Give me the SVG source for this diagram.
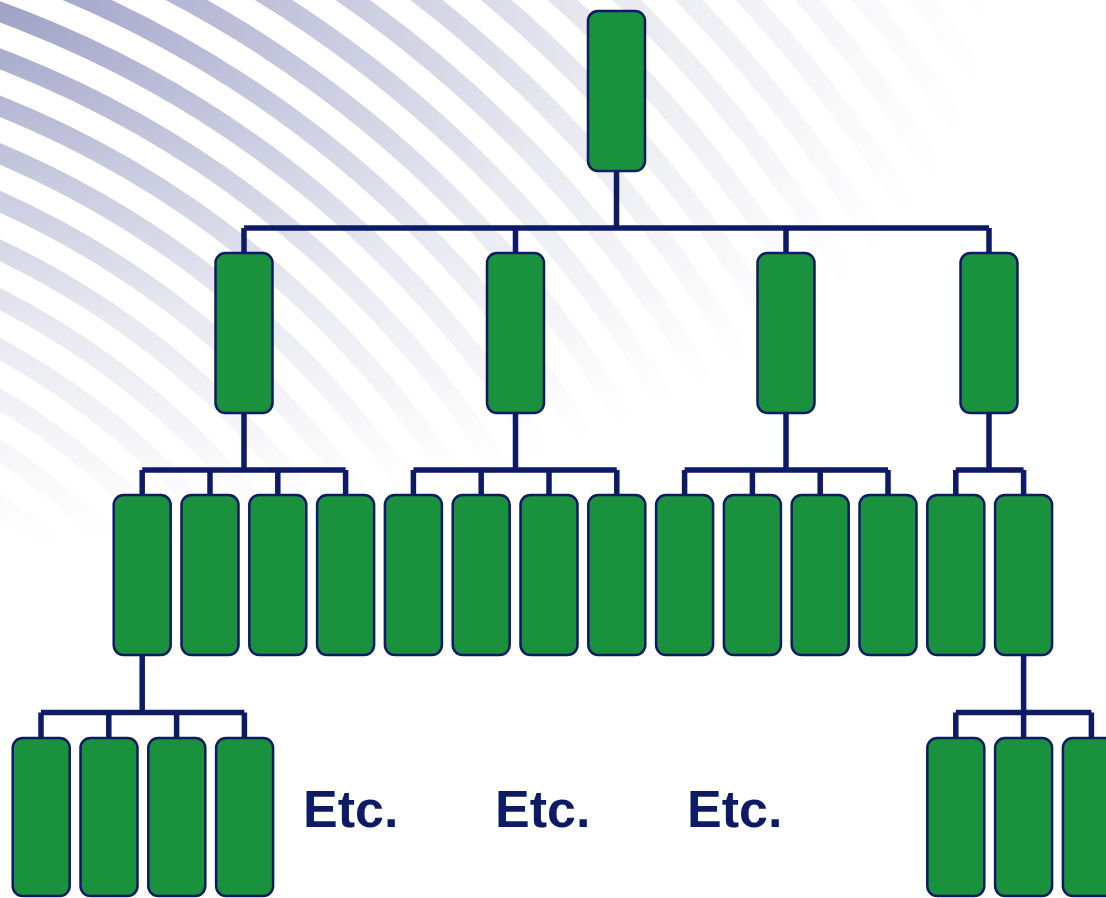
<svg xmlns="http://www.w3.org/2000/svg" width="1106" height="898" viewBox="0 0 1106 898">
<defs>
<radialGradient id="fade" gradientUnits="userSpaceOnUse" cx="0" cy="0" r="1000" gradientTransform="scale(1,0.55)">
<stop offset="0" stop-color="#9ea1c6"/>
<stop offset="0.3" stop-color="#c4c6dd"/>
<stop offset="0.6" stop-color="#e8e9f1"/>
<stop offset="0.85" stop-color="#f8f8fb"/>
<stop offset="1" stop-color="#ffffff"/>
</radialGradient>
<style>
.bg{fill:none;stroke:url(#fade);stroke-width:20}
.box{fill:#1a913c;stroke:#0d1a66;stroke-width:2.5}
.con{fill:none;stroke:#0d1a66;stroke-width:5.5;stroke-linecap:butt;stroke-linejoin:miter}
.etc{font-family:"Liberation Sans",Arial,sans-serif;font-weight:bold;font-size:52px;fill:#0d1a66}
</style>
</defs>
<rect width="1106" height="898" fill="#ffffff"/>
<g id="background">
<circle class="bg" cx="-367" cy="1017" r="630"/>
<circle class="bg" cx="-367" cy="1017" r="674"/>
<circle class="bg" cx="-367" cy="1017" r="718"/>
<circle class="bg" cx="-367" cy="1017" r="762"/>
<circle class="bg" cx="-367" cy="1017" r="806"/>
<circle class="bg" cx="-367" cy="1017" r="850"/>
<circle class="bg" cx="-367" cy="1017" r="894"/>
<circle class="bg" cx="-367" cy="1017" r="938"/>
<circle class="bg" cx="-367" cy="1017" r="982"/>
<circle class="bg" cx="-367" cy="1017" r="1026"/>
<circle class="bg" cx="-367" cy="1017" r="1070"/>
<circle class="bg" cx="-367" cy="1017" r="1114"/>
<circle class="bg" cx="-367" cy="1017" r="1158"/>
<circle class="bg" cx="-367" cy="1017" r="1202"/>
<circle class="bg" cx="-367" cy="1017" r="1246"/>
<circle class="bg" cx="-367" cy="1017" r="1290"/>
<circle class="bg" cx="-367" cy="1017" r="1334"/>
<circle class="bg" cx="-367" cy="1017" r="1378"/>
<circle class="bg" cx="-367" cy="1017" r="1422"/>
<circle class="bg" cx="-367" cy="1017" r="1466"/>
<circle class="bg" cx="-367" cy="1017" r="1510"/>
<circle class="bg" cx="-367" cy="1017" r="1554"/>
<circle class="bg" cx="-367" cy="1017" r="1598"/>
<circle class="bg" cx="-367" cy="1017" r="1642"/>
<circle class="bg" cx="-367" cy="1017" r="1686"/>
</g>
<g id="connectors">
<path class="con" d="M616.5 171V228M244 228H989M244 228V252M515.5 228V252M786 228V252M989 228V252"/>
<path class="con" d="M244 413V470M142.2 470H345.6M142.2 470V494M210 470V494M277.8 470V494M345.6 470V494"/>
<path class="con" d="M515.5 413V470M413.4 470H616.8M413.4 470V494M481.2 470V494M549 470V494M616.8 470V494"/>
<path class="con" d="M786 413V470M684.6 470H888M684.6 470V494M752.4 470V494M820.2 470V494M888 470V494"/>
<path class="con" d="M989 413V470M955.8 470H1023.6M955.8 470V494M1023.6 470V494"/>
<path class="con" d="M142.2 656V712.5M41 712.5H244.4M41 712.5V737M108.8 712.5V737M176.6 712.5V737M244.4 712.5V737"/>
<path class="con" d="M1023.6 656V712.5M955.8 712.5H1091.4M955.8 712.5V737M1023.6 712.5V737M1091.4 712.5V737"/>
</g>
<g id="root"><rect class="box" x="588" y="11" width="57" height="160" rx="10"/></g>
<g id="l2-1"><rect class="box" x="215.5" y="253" width="57" height="160" rx="10"/></g>
<g id="l2-2"><rect class="box" x="487" y="253" width="57" height="160" rx="10"/></g>
<g id="l2-3"><rect class="box" x="757.5" y="253" width="57" height="160" rx="10"/></g>
<g id="l2-4"><rect class="box" x="960.5" y="253" width="57" height="160" rx="10"/></g>
<g id="l3-1"><rect class="box" x="113.7" y="495" width="57" height="160" rx="10"/></g>
<g id="l3-2"><rect class="box" x="181.5" y="495" width="57" height="160" rx="10"/></g>
<g id="l3-3"><rect class="box" x="249.3" y="495" width="57" height="160" rx="10"/></g>
<g id="l3-4"><rect class="box" x="317.1" y="495" width="57" height="160" rx="10"/></g>
<g id="l3-5"><rect class="box" x="384.9" y="495" width="57" height="160" rx="10"/></g>
<g id="l3-6"><rect class="box" x="452.7" y="495" width="57" height="160" rx="10"/></g>
<g id="l3-7"><rect class="box" x="520.5" y="495" width="57" height="160" rx="10"/></g>
<g id="l3-8"><rect class="box" x="588.3" y="495" width="57" height="160" rx="10"/></g>
<g id="l3-9"><rect class="box" x="656.1" y="495" width="57" height="160" rx="10"/></g>
<g id="l3-10"><rect class="box" x="723.9" y="495" width="57" height="160" rx="10"/></g>
<g id="l3-11"><rect class="box" x="791.7" y="495" width="57" height="160" rx="10"/></g>
<g id="l3-12"><rect class="box" x="859.5" y="495" width="57" height="160" rx="10"/></g>
<g id="l3-13"><rect class="box" x="927.3" y="495" width="57" height="160" rx="10"/></g>
<g id="l3-14"><rect class="box" x="995.1" y="495" width="57" height="160" rx="10"/></g>
<g id="l4-1"><rect class="box" x="12.7" y="738" width="57" height="158" rx="10"/></g>
<g id="l4-2"><rect class="box" x="80.5" y="738" width="57" height="158" rx="10"/></g>
<g id="l4-3"><rect class="box" x="148.3" y="738" width="57" height="158" rx="10"/></g>
<g id="l4-4"><rect class="box" x="216.1" y="738" width="57" height="158" rx="10"/></g>
<g id="l4-5"><rect class="box" x="927.3" y="738" width="57" height="158" rx="10"/></g>
<g id="l4-6"><rect class="box" x="995.1" y="738" width="57" height="158" rx="10"/></g>
<g id="l4-7"><rect class="box" x="1062.9" y="738" width="57" height="158" rx="10"/></g>
<g id="labels">
<text class="etc" x="303" y="827">Etc.</text>
<text class="etc" x="495" y="827">Etc.</text>
<text class="etc" x="687" y="827">Etc.</text>
</g>
</svg>
